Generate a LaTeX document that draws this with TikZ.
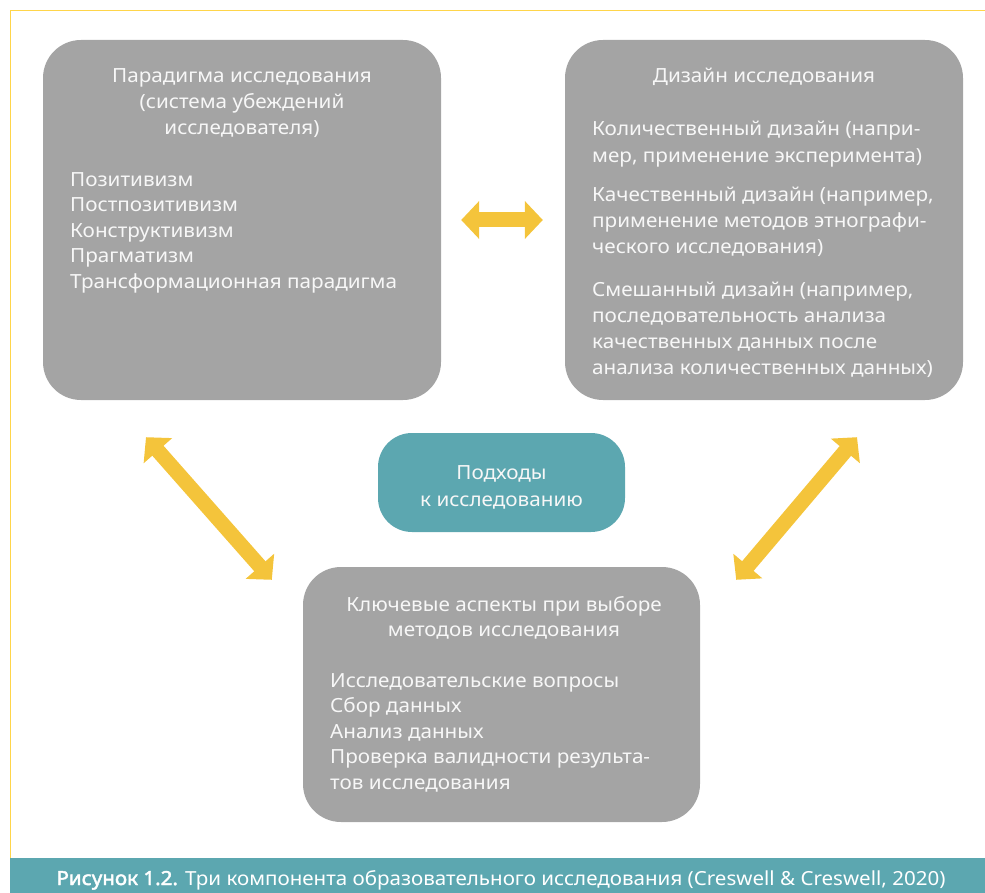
\documentclass[tikz,border=0pt]{standalone}
\usepackage{fontspec}
\setmainfont{Noto Sans}[FakeStretch=1.06]
\newfontfamily\capbold{Noto Sans}[FakeStretch=1.06, FakeBold=2.2]
\usetikzlibrary{arrows.meta}
\definecolor{boxgrey}{HTML}{A4A4A4}
\definecolor{teal}{HTML}{5CA7B0}
\definecolor{arrowyellow}{HTML}{F4C43B}
\definecolor{frameyellow}{HTML}{FFD54A}
\definecolor{txt}{HTML}{F7F7F7}
\newcommand{\bodysize}[1]{\fontsize{19.5pt}{#1}\selectfont}
\tikzset{
  greybox/.style={fill=boxgrey, draw=none, rounded corners=38pt, inner sep=0pt},
  tealbox/.style={fill=teal, draw=none, rounded corners=34pt, inner sep=0pt},
  boxtext/.style={text=txt, inner sep=0pt},
  bigarrow/.style={draw=arrowyellow, line width=15pt,
    {Triangle[length=18pt,width=37pt]}-{Triangle[length=18pt,width=37pt]}}
}
\begin{document}
\begin{tikzpicture}[x=1pt,y=-1pt]
\useasboundingbox (0,0) rectangle (985,893);
% frame
\draw[frameyellow, line width=1.5pt] (10.5,858) -- (10.5,10.5) -- (985,10.5);
% caption bar
\fill[teal] (10,858) rectangle (985,893);
\node[anchor=base, text=white, inner sep=0pt, font=\fontsize{19.4pt}{22pt}\selectfont] (cap) at (501,885)
  {{\capbold Рисунок 1.2.} Три компонента образовательного исследования (Creswell \& Creswell, 2020)};

% boxes
\node[greybox, minimum width=398pt, minimum height=360pt] (b1) at (242,220) {};
\node[greybox, minimum width=398pt, minimum height=360pt] (b2) at (764,220) {};
\node[tealbox, minimum width=247pt, minimum height=99pt] (c) at (501.5,482.5) {};
\node[greybox, minimum width=397pt, minimum height=255pt] (b3) at (501.5,694.5) {};

% box 1 text (base anchor = baseline of last line)
\node[boxtext, anchor=base, align=center, font=\bodysize{26pt}] (t1) at (242,135)
  {Парадигма исследования\\(система убеждений\\исследователя)};
\node[boxtext, anchor=base west, align=left, font=\bodysize{25.6pt}] (l1) at (70,288.5)
  {Позитивизм\\Постпозитивизм\\Конструктивизм\\Прагматизм\\Трансформационная парадигма};

% box 2 text
\node[boxtext, anchor=base, font=\bodysize{26pt}] (t2) at (764,83) {Дизайн исследования};
\node[boxtext, anchor=base west, align=left, font=\bodysize{26.7pt}] (p1) at (592,162.7)
  {Количественный дизайн (напри-\\мер, применение эксперимента)};
\node[boxtext, anchor=base west, align=left, font=\bodysize{26.2pt}] (p2) at (592,254)
  {Качественный дизайн (например,\\применение методов этнографи-\\ческого исследования)};
\node[boxtext, anchor=base west, align=left, font=\bodysize{26pt}] (p3) at (592,374)
  {Смешанный дизайн (например,\\последовательность анализа\\качественных данных после\\анализа количественных данных)};

% center text
\node[boxtext, anchor=base, align=center, font=\bodysize{26.7pt}] (tc) at (501.5,506)
  {Подходы\\к исследованию};

% box 3 text
\node[boxtext, anchor=base, align=center, font=\bodysize{24.3pt}] (t3) at (504,636)
  {Ключевые аспекты при выборе\\методов исследования};
\node[boxtext, anchor=base west, align=left, font=\bodysize{25.5pt}] (l3) at (330,789.3)
  {Исследовательские вопросы\\Сбор данных\\Анализ данных\\Проверка валидности результа-\\тов исследования};

% arrows
\draw[bigarrow, shorten <=20pt, shorten >=22pt] (b1.east) -- (b2.west);
\draw[bigarrow] ([xshift=-96pt,yshift=-37pt]b1.south) -- ([xshift=-31pt,yshift=-13pt]b3.north west);
\draw[bigarrow] ([xshift=93pt,yshift=-37pt]b2.south) -- ([xshift=36pt,yshift=-13pt]b3.north east);
\end{tikzpicture}
\end{document}
